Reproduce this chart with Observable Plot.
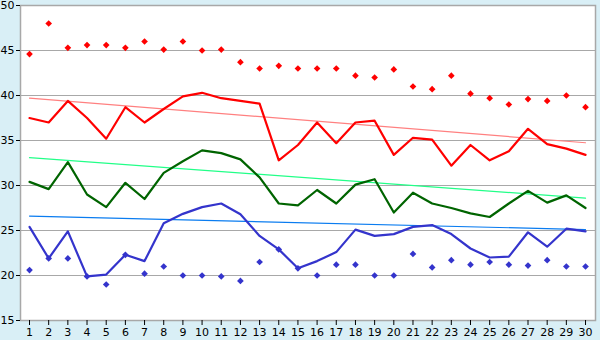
<!DOCTYPE html>
<html><head><meta charset="utf-8">
<script src="https://cdn.jsdelivr.net/npm/d3@7"></script>
<script src="https://cdn.jsdelivr.net/npm/@observablehq/plot@0.6"></script>
<style>
body{margin:0;background:#d9eff6;}
#chart svg{display:block;background:#d9eff6;}
</style></head><body><div id="chart"></div>
<script>
const days = d3.range(1, 31);
const highLine = [37.5,37.0,39.4,37.5,35.2,38.7,37.0,38.5,39.9,40.3,39.7,39.4,39.1,32.8,34.5,37.0,34.7,37.0,37.2,33.4,35.3,35.1,32.2,34.5,32.8,33.8,36.3,34.6,34.1,33.4];
const highMax = [44.6,48.0,45.3,45.6,45.6,45.3,46.0,45.1,46.0,45.0,45.1,43.7,43.0,43.3,43.0,43.0,43.0,42.2,42.0,42.9,41.0,40.7,42.2,40.2,39.7,39.0,39.6,39.4,40.0,38.7];
const midLine = [30.4,29.6,32.6,29.0,27.6,30.3,28.5,31.4,32.7,33.9,33.6,32.9,30.9,28.0,27.8,29.5,28.0,30.1,30.7,27.0,29.2,28.0,27.5,26.9,26.5,28.0,29.4,28.1,28.9,27.5];
const lowLine = [25.4,21.9,24.9,19.9,20.1,22.3,21.6,25.8,26.85,27.6,28.0,26.8,24.4,22.9,20.8,21.6,22.6,25.1,24.4,24.6,25.4,25.6,24.6,23.0,22.0,22.1,24.8,23.2,25.2,24.9];
const lowMin = [20.6,21.9,21.9,19.9,19.0,22.3,20.2,21.0,20.0,20.0,19.9,19.4,21.5,22.9,20.8,20.0,21.2,21.2,20.0,20.0,22.4,20.9,21.7,21.2,21.5,21.2,21.1,21.7,21.0,21.0];
const trendHigh = [39.7, 34.75];
const trendMid = [33.1, 28.6];
const trendLow = [26.6, 25.1];
const trendDays = [1, 30];
const yTicks = [15,20,25,30,35,40,45,50];

const rows = days.map((d,i)=>({d, hl:highLine[i], hm:highMax[i], ml:midLine[i], ll:lowLine[i], lm:lowMin[i]}));
const trend = (vals)=>trendDays.map((d,i)=>({d, v:vals[i]}));

const chart = Plot.plot({
  width: 600, height: 340,
  marginLeft: 20, marginRight: 5, marginTop: 5, marginBottom: 20,
  style: {fontFamily: "DejaVu Sans", fontSize: "11px", color: "#000", background: "#d9eff6"},
  x: {domain: [0.53, 30.52]},
  y: {domain: [15, 50]},
  marks: [
    Plot.frame({fill: "white", stroke: "none"}),
    Plot.ruleY(yTicks.slice(1,-1), {stroke: "#a8a8a8", strokeWidth: 1}),
    Plot.frame({stroke: "#a8a8a8", strokeWidth: 1.5}),
    Plot.axisY({ticks: yTicks, tickSize: 4, tickPadding: 2, stroke: "#000", fill: "#000", tickFormat: d=>String(d), label: null}),
    Plot.axisX({ticks: days, tickSize: 5, tickPadding: 3, stroke: "#000", fill: "#000", tickFormat: d=>String(d), label: null}),
    Plot.line(trend(trendHigh), {x:"d", y:"v", stroke:"#ff8080", strokeWidth:1.2}),
    Plot.line(trend(trendMid), {x:"d", y:"v", stroke:"#22ff88", strokeWidth:1.2}),
    Plot.line(trend(trendLow), {x:"d", y:"v", stroke:"#0a7cf0", strokeWidth:1.2}),
    Plot.line(rows, {x:"d", y:"hl", stroke:"#ff0000", strokeWidth:2.2}),
    Plot.line(rows, {x:"d", y:"ml", stroke:"#006400", strokeWidth:2.2}),
    Plot.line(rows, {x:"d", y:"ll", stroke:"#3434cc", strokeWidth:2.2}),
    Plot.dot(rows, {x:"d", y:"hm", symbol:"diamond2", r:3, fill:"#ff0000", stroke:"none"}),
    Plot.dot(rows, {x:"d", y:"lm", symbol:"diamond2", r:3, fill:"#3434cc", stroke:"none"})
  ]
});
document.getElementById("chart").append(chart);
</script></body></html>
